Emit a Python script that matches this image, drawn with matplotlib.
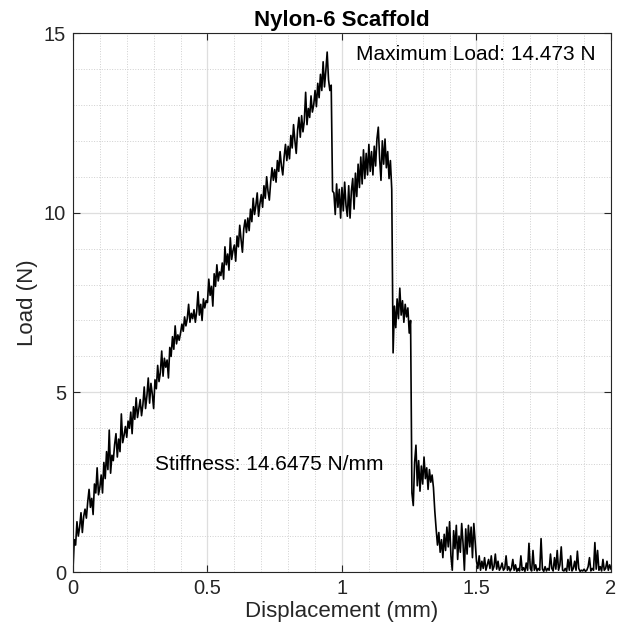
import numpy as np
import matplotlib.pyplot as plt
from matplotlib.ticker import MultipleLocator

# displacement is sampled every 0.005 mm from 0 to 2 mm
step = 0.005

# load (N)
load_rise = [
    0.00, 0.90, 0.75, 1.40, 1.00, 1.25, 1.65, 1.10, 1.55, 1.75,
    1.50, 1.95, 2.30, 1.80, 2.05, 1.60, 2.45, 2.20, 2.90, 2.15,
    2.35, 2.70, 2.20, 3.05, 2.60, 3.35, 2.85, 3.95, 2.75, 3.25,
    3.10, 3.55, 3.85, 3.20, 3.70, 3.35, 4.40, 3.60, 3.80, 4.05,
    3.75, 4.20, 4.00, 4.45, 3.85, 4.60, 4.25, 4.85, 4.30, 4.55,
    4.80, 4.35, 4.65, 5.15, 4.55, 4.90, 5.40, 4.70, 5.25, 4.95,
    4.55, 5.35, 5.10, 5.75, 5.30, 5.55, 6.15, 5.45, 5.95, 5.70,
    5.90, 5.40, 6.25, 6.00, 6.55, 6.20, 6.85, 6.35, 6.60, 6.45,
    6.65, 6.90, 6.70, 7.10, 6.85, 7.05, 7.45, 6.95, 7.20, 7.05,
    7.30, 6.95, 7.25, 7.80, 7.15, 7.45, 7.00, 7.60, 7.35, 7.55,
    7.50, 8.15, 7.70, 7.95, 7.40, 8.30, 7.95, 8.55, 8.10, 8.35,
    8.25, 8.60, 8.15, 9.05, 8.55, 8.85, 8.40, 9.30, 8.70, 8.95,
    9.10, 8.65, 9.35, 9.05, 9.65, 9.25, 8.90, 9.55, 9.80, 9.45,
    9.85, 9.50, 10.10, 9.75, 10.40, 9.95, 10.20, 10.55, 9.90, 10.25,
    10.50, 10.15, 10.75, 10.40, 11.00, 10.60, 10.35, 10.85, 11.25, 10.90,
    11.20, 10.85, 11.45, 11.15, 11.70, 11.30, 11.05, 11.55, 11.90, 11.45,
    11.85, 11.50, 12.15, 11.80, 12.45, 12.00, 11.65, 12.30, 12.65, 12.10,
    12.70, 12.25, 12.55, 13.35, 12.45, 12.90, 12.65, 13.25, 12.80, 13.00,
    13.40, 12.95, 13.60, 13.20, 13.85, 13.40, 14.20, 13.50, 13.95, 14.47,
    13.70, 13.40, 13.55,
]
load_hump = [
    10.60,
    10.55, 9.95, 10.80, 10.15, 10.65, 9.85, 10.70, 10.05, 10.85, 10.20,
    9.90, 10.75, 9.85, 10.60, 10.95, 10.10, 11.10, 10.45, 11.35, 10.70,
    11.55, 10.80, 11.75, 10.95, 11.65, 11.05, 11.90, 11.15, 11.70, 11.05,
    11.85, 11.30, 12.05, 12.38, 11.50, 10.90, 12.00, 11.35, 12.05, 11.25,
    11.70, 10.95, 11.45, 10.65,
]
load_step = [6.10, 7.40, 6.80, 7.60, 7.05, 7.90, 7.15, 7.55, 6.95, 7.45,
             7.10, 7.35, 6.65, 7.00]
load_tail1 = [2.20, 1.85, 3.05, 3.53, 2.40, 3.10, 2.25, 2.95, 2.45, 3.20,
              2.60, 2.90, 2.30, 2.85, 2.50, 2.70, 2.35]
load_tail2 = [
    1.70, 1.20, 0.75, 1.10, 0.55, 0.90, 0.40, 1.05, 0.60, 1.25,
    0.70, 1.40, 0.45, 0.05, 1.15, 0.65, 1.30, 0.35, 1.00, 0.55,
    1.35, 0.80, 0.05, 1.20, 0.50, 1.30, 0.70, 1.25, 0.40, 1.35,
    0.85, 0.30,
]
load_floor = [
    0.10, 0.45, 0.05, 0.30, 0.10, 0.40, 0.05, 0.20, 0.35, 0.10,
    0.45, 0.05, 0.15, 0.50, 0.08, 0.30, 0.05, 0.12, 0.25, 0.05,
    0.10, 0.45, 0.05, 0.15, 0.03, 0.10, 0.35, 0.05, 0.20, 0.02,
    0.10, 0.03, 0.45, 0.05, 0.12, 0.02, 0.25, 0.05, 0.80, 0.10,
    0.03, 0.60, 0.05, 0.20, 0.03, 0.10, 0.05, 0.93, 0.08, 0.02,
    0.15, 0.03, 0.10, 0.05, 0.50, 0.10, 0.03, 0.40, 0.08, 0.60,
    0.05, 0.20, 0.70, 0.05, 0.03, 0.10, 0.02, 0.35, 0.05, 0.45,
    0.03, 0.10, 0.30, 0.05, 0.58, 0.10, 0.02, 0.05, 0.03, 0.08,
    0.02, 0.05, 0.15, 0.40, 0.03, 0.10, 0.05, 0.82, 0.08, 0.60,
    0.05, 0.15, 0.03, 0.35, 0.05, 0.10, 0.30, 0.05, 0.20, 0.08,
]

load = np.array(load_rise + load_hump + load_step + load_tail1 + load_tail2 + load_floor)
disp = np.arange(len(load)) * step

max_text = 'Maximum Load: 14.473 N'
stiff_text = 'Stiffness: 14.6475 N/mm'

plt.rcParams['font.family'] = ['Liberation Sans', 'DejaVu Sans']

fig = plt.figure(figsize=(6.18, 6.41), dpi=100)
ax = fig.add_axes([0.118, 0.1076, 0.8707, 0.8409])

ax.plot(disp, load, color='black', linewidth=1.2)

ax.set_xlim(0, 2)
ax.set_ylim(0, 15)
ax.xaxis.set_major_locator(MultipleLocator(0.5))
ax.xaxis.set_minor_locator(MultipleLocator(0.1))
ax.yaxis.set_major_locator(MultipleLocator(5))
ax.yaxis.set_minor_locator(MultipleLocator(1))
ax.set_xticks([0, 0.5, 1, 1.5, 2], ['0', '0.5', '1', '1.5', '2'])

ax.grid(which='major', color='#dedede', linewidth=0.9, linestyle='-')
ax.grid(which='minor', color='#d0d0d0', linewidth=0.7, linestyle=':')
ax.set_axisbelow(True)

ax.tick_params(which='major', direction='in', length=5, width=0.8, colors='#262626',
               top=True, right=True, labelsize=14.5, pad=5)
ax.tick_params(which='minor', length=0)
for sp in ax.spines.values():
    sp.set_color('#262626')
    sp.set_linewidth(0.8)

ax.set_xlabel('Displacement (mm)', fontsize=16, color='#262626', labelpad=2)
ax.set_ylabel('Load (N)', fontsize=16, color='#262626', labelpad=4)
ax.set_title('Nylon-6 Scaffold', fontsize=16, fontweight='bold', pad=5)

ax.text(1.052, 14.4, max_text, fontsize=15, va='center', ha='left')
ax.text(0.305, 2.98, stiff_text, fontsize=15, va='center', ha='left')

fig.savefig('out.png', dpi=100, facecolor='white')
